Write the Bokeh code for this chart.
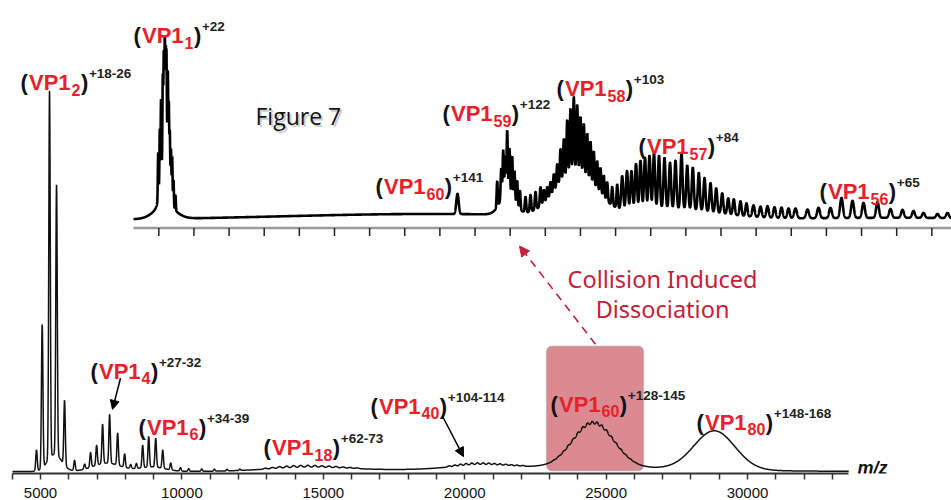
import numpy as np
from bokeh.plotting import figure
from bokeh.models import Range1d, FixedTicker, Arrow, NormalHead, BoxAnnotation, Label
from bokeh.core.properties import value
from bokeh.embed import file_html
from bokeh.resources import INLINE

# ---------------- main spectrum (m/z, relative intensity) ----------------
main_peak_mz = [4858, 5060, 5319, 5567, 5850, 6204, 6560, 6771, 6984, 7196, 7444, 7728,
                7975, 8190, 8390, 8613, 8826, 9074, 9322, 9605, 9950, 10240, 10700,
                11150, 11600, 12050]
main_peak_height = [5.5, 37.7, 96.6, 71.0, 17.0, 2.7, 1.3, 3.9, 5.2, 10.3, 12.8, 8.4,
                    3.5, 1.0, 1.3, 5.9, 8.0, 7.6, 4.8, 1.8, 0.9, 0.7, 0.6,
                    0.5, 0.4, 0.35]
main_band_mz = [5500, 7350, 8950, 14500, 20500, 23500, 24550, 28830]
main_band_height = [4.5, 2.2, 1.2, 1.0, 0.8, 1.2, 11.0, 10.2]
main_band_width = [250, 500, 450, 1500, 1000, 4000, 720, 720]
vp18_ripple_mz = [12950, 13200, 13450, 13700, 13950, 14200, 14450, 14700, 14950, 15200,
                  15450, 15700, 15950, 16200]
vp18_ripple_height = [0.25, 0.35, 0.45, 0.5, 0.55, 0.55, 0.55, 0.5, 0.45, 0.4, 0.35, 0.3,
                      0.25, 0.2]
vp40_ripple_mz = [19450, 19650, 19850, 20050, 20250, 20450, 20650, 20850, 21050, 21250,
                  21450, 21650, 21850, 22050]
vp40_ripple_height = [0.3, 0.4, 0.5, 0.55, 0.6, 0.6, 0.55, 0.5, 0.45, 0.4, 0.35, 0.3,
                      0.25, 0.2]
vp60_ripple_mz = [23150, 23320, 23490, 23660, 23830, 24000, 24170, 24340, 24510, 24680,
                  24850, 25020, 25190, 25360, 25530, 25700, 25870, 26040]
vp60_ripple_height = [0.15, 0.25, 0.4, 0.55, 0.7, 0.85, 0.95, 1.0, 1.0, 1.0, 0.95, 0.85,
                      0.7, 0.55, 0.4, 0.3, 0.2, 0.1]

x_tick_values = [5000, 10000, 15000, 20000, 25000, 30000]
x_minor_ticks = [4000, 6000, 7000, 8000, 9000, 11000, 12000, 13000, 14000, 16000, 17000,
                 18000, 19000, 21000, 22000, 23000, 24000, 26000, 27000, 28000, 29000,
                 31000, 32000, 33000]

# ---------------- inset spectrum (CID product ions) ----------------
inset_band_mz = [2927, 2927, 21853, 23753, 27317, 32148, 39050, 55272]
inset_band_height = [30, 8, 3.4, 11.5, 13, 24, 5.5, 1.2]
inset_band_width = [250, 700, 10673, 85, 500, 1423, 3200, 7115]

vp1_1_mz = [2457, 2571, 2657, 2785, 2856, 2927, 2991, 3048, 3140, 3212, 3283, 3368, 3453,
            3546, 3688]
vp1_1_height = [26, 32.8, 43.5, 47.4, 56.4, 62, 53.3, 54.6, 54.6, 41.8, 31.1, 26.4, 25.7,
                15.1, 8.4]
vp59_mz = [26577, 26862, 27004, 27146, 27289, 27452, 27644, 27808, 28000, 28199,
           28591, 28947, 29302, 29658]
vp59_height = [14.5, 17.5, 26, 20.7, 34.7, 25, 22.5, 16.5, 13.9, 10.4, 8.8, 9.6, 10, 10.8]
vp58_mz = [29893, 30134, 30369, 30604, 30846, 31081, 31316, 31558, 31793, 32027, 32269,
           32504, 32739, 32981, 33216, 33450, 33692, 33927, 34162, 34404, 34760, 35116]
vp58_height = [7.5, 7.2, 7.9, 10.1, 13.3, 19.5, 23.1, 32.1, 37.2, 43.3, 38.7, 32.5, 29.8,
               25.9, 23.5, 20.1, 16.9, 15.2, 12.9, 10.9, 10.4, 13.3]
vp57_mz = [35471, 35813, 36133, 36453, 36773, 37093, 37413, 37733, 38089, 38480, 38872,
           39263, 39690, 40096, 40494, 40921, 41327, 41754, 42159, 42586, 43013, 43411,
           43888, 44315, 44813, 45311, 45809, 46307, 46805, 47303]
vp57_height = [18.9, 22.2, 22.3, 26.2, 27.9, 29.5, 30.4, 31.4, 30.1, 28.9, 26, 27.2, 31.3,
               24.8, 23.9, 21.3, 18.8, 16.3, 13.8, 11.4, 9, 8.8, 8.1, 7.3, 6.5, 6, 6.5,
               6, 6, 5.5]
vp56_mz = [47801, 48655, 49438, 50291, 51074, 51857, 52639, 53635, 54560, 55414, 56197,
           56908, 57904, 58616]
vp56_height = [5.5, 4.9, 5.9, 5.8, 11.4, 9.7, 8.5, 9, 5, 4.5, 3.9, 2.8, 2.3, 2.9]
inset_tick_values = [2500, 5000, 7500, 10000, 12500, 15000, 17500, 20000, 22500, 25000,
                     27500, 30000, 32500, 35000, 37500, 40000, 42500, 45000, 47500, 50000,
                     52500, 55000, 57500]

# ---------------- annotations ----------------
main_label_n = ["2", "4", "6", "18", "40", "60", "80"]
main_label_charge = ["+18-26", "+27-32", "+34-39", "+62-73", "+104-114", "+128-145", "+148-168"]
inset_label_n = ["1", "60", "59", "58", "57", "56"]
inset_label_charge = ["+22", "+141", "+122", "+103", "+84", "+65"]

# label anchor positions (data units)
main_label_x = [4293, 6768, 8465, 12885, 16669, 23034, 28196]
main_label_y = [102.1, 26.3, 11.6, 6.3, 17.1, 17.6, 12.9]
inset_label_x = [700, 17918, 22685, 30796, 36631, 49510]
inset_label_y = [104.5, 18.75, 60.2, 74.4, 41.5, 15.9]


def profile(grid, centers, heights, widths):
    out = np.zeros_like(grid)
    for c, h, w in zip(centers, heights, widths):
        out += h * np.exp(-0.5 * ((grid - c) / w) ** 2)
    return out


main_mz = np.arange(4010.0, 33580.0, 4.0)
main_int = (profile(main_mz, main_peak_mz, main_peak_height, [26] * len(main_peak_mz))
            + profile(main_mz, main_band_mz, main_band_height, main_band_width)
            + profile(main_mz, vp18_ripple_mz, vp18_ripple_height, [55] * len(vp18_ripple_mz))
            + profile(main_mz, vp40_ripple_mz, vp40_ripple_height, [50] * len(vp40_ripple_mz))
            + profile(main_mz, vp60_ripple_mz, vp60_ripple_height, [45] * len(vp60_ripple_mz)))

inset_mz = np.arange(700.0, 58900.0, 5.0)
inset_int = (profile(inset_mz, inset_band_mz, inset_band_height, inset_band_width)
             + profile(inset_mz, vp1_1_mz, vp1_1_height, [26] * len(vp1_1_mz))
             + profile(inset_mz, vp59_mz, vp59_height, [40] * 10 + [50] * 4)
             + profile(inset_mz, vp58_mz, vp58_height, [50] * len(vp58_mz))
             + profile(inset_mz, vp57_mz, vp57_height, [72] * 24 + [85] * 6)
             + profile(inset_mz, vp56_mz, vp56_height, [100] * len(vp56_mz)))

# ---------------- figure ----------------
W, H = 951, 500
B = 472            # expected y of frame bottom (main axis line)

p = figure(width=W, height=H, output_backend="svg", toolbar_location=None,
           x_range=Range1d(3585.6, 37212.0),
           y_range=Range1d((470 - B) / 3.8, 470 / 3.8),
           y_axis_location=None, min_border=0,
           background_fill_color="white", border_fill_color="white")
p.outline_line_color = None
p.grid.visible = False
p.extra_x_ranges = {"inset": Range1d(-8763.0, 58900.0)}
p.extra_y_ranges = {"inset": Range1d((219 - B) / 1.76, 219 / 1.76)}

ax = p.xaxis[0]
ax.ticker = FixedTicker(ticks=x_tick_values, minor_ticks=x_minor_ticks)
ax.bounds = (4010, 33580)
ax.axis_line_width = 2
ax.axis_line_color = "#333333"
ax.major_tick_in = 0
ax.major_tick_out = 6
ax.minor_tick_in = 0
ax.minor_tick_out = 6
ax.major_tick_line_width = 1.5
ax.minor_tick_line_width = 1.5
ax.major_tick_line_color = "#333333"
ax.minor_tick_line_color = "#333333"
ax.major_label_standoff = 8
ax.major_label_text_font = "Liberation Sans"
ax.major_label_text_font_size = "15px"
ax.major_label_text_color = "#111111"

# CID selection box (under the trace)
box = BoxAnnotation(left=22892, right=26322, bottom=0.2, top=32.9,
                    fill_color="#DB8A91", fill_alpha=1.0, line_color="#8A8A8A",
                    line_width=1.5, border_radius=5, level="underlay")
p.add_layout(box)

# main trace
p.line(main_mz, main_int, line_color="#111111", line_width=1.5)

# inset axis
p.segment(x0=[700], y0=[-4.5], x1=[58900], y1=[-4.5], line_color="#9A9A9A", line_width=2.5,
          x_range_name="inset", y_range_name="inset")
p.segment(x0=inset_tick_values, y0=[-4.5] * len(inset_tick_values),
          x1=inset_tick_values, y1=[-9.1] * len(inset_tick_values),
          line_color="#222222", line_width=1.5, x_range_name="inset", y_range_name="inset")
# inset trace
p.line(inset_mz, inset_int, line_color="#000000", line_width=2.6,
       x_range_name="inset", y_range_name="inset")

RED = "#E8202A"
FONT = value("Liberation Sans")


def add_labels(ns, charges, xs, ys, **rng):
    n = len(ns)
    p.text(x=xs, y=ys, text=["("] * n, text_color="#111111", text_font=FONT,
           text_font_style="bold", text_font_size="22px", text_baseline="alphabetic", **rng)
    p.text(x=xs, y=ys, text=["VP1"] * n, x_offset=[8.5] * n, text_color=RED, text_font=FONT,
           text_font_style="bold", text_font_size="22px", text_baseline="alphabetic", **rng)
    p.text(x=xs, y=ys, text=ns, x_offset=[51] * n, y_offset=[7] * n, text_color=RED,
           text_font=FONT, text_font_style="bold", text_font_size="16px",
           text_baseline="alphabetic", **rng)
    close = [51 + 8.9 * len(s) + 0.5 for s in ns]
    p.text(x=xs, y=ys, text=[")"] * n, x_offset=close, text_color="#111111", text_font=FONT,
           text_font_style="bold", text_font_size="22px", text_baseline="alphabetic", **rng)
    p.text(x=xs, y=ys, text=charges, x_offset=[c + 8 for c in close], y_offset=[-9] * n,
           text_color="#222222", text_font=FONT, text_font_style="bold",
           text_font_size="13.5px", text_baseline="alphabetic", **rng)


add_labels(main_label_n, main_label_charge, main_label_x, main_label_y)
add_labels(inset_label_n, inset_label_charge, inset_label_x, inset_label_y,
           x_range_name="inset", y_range_name="inset")

# Figure 7 with soft shadow
p.text(x=[12602], y=[93.4], text=["Figure 7"], x_offset=[2], y_offset=[2],
       text_color="#999999", text_alpha=0.5, text_font=value("Open Sans"),
       text_font_size="23px", text_baseline="alphabetic")
p.text(x=[12602], y=[93.4], text=["Figure 7"], text_color="#111111",
       text_font=value("Open Sans"), text_font_size="23px", text_baseline="alphabetic")

# arrows
p.add_layout(Arrow(end=NormalHead(size=9, fill_color="black", line_color="black", line_width=1),
                   x_start=7829, y_start=24.5, x_end=7546, y_end=16.3,
                   line_color="black", line_width=1.5))
p.add_layout(Arrow(end=NormalHead(size=9, fill_color="black", line_color="black", line_width=1),
                   x_start=19215, y_start=14.5, x_end=19957, y_end=3.9,
                   line_color="black", line_width=1.5))
CID = "#C5203A"
p.add_layout(Arrow(end=NormalHead(size=10, fill_color=CID, line_color=CID, line_width=1),
                   x_start=24625, y_start=33.4, x_end=21937, y_end=59.2,
                   line_color=CID, line_width=1.6, line_dash="8 6"))
p.text(x=[26994, 26994], y=[50.5, 42.6], text=["Collision Induced", "Dissociation"],
       text_color=CID, text_font=value("Noto Sans"), text_font_size="23.5px",
       text_align="center", text_baseline="alphabetic")

p.add_layout(Label(x=33890, y=0.9, text="m/z", text_font="Liberation Sans",
                   text_font_style="bold italic", text_font_size="18px",
                   text_color="#111111", text_baseline="alphabetic"))

open("out.html", "w").write(file_html(p, INLINE))
